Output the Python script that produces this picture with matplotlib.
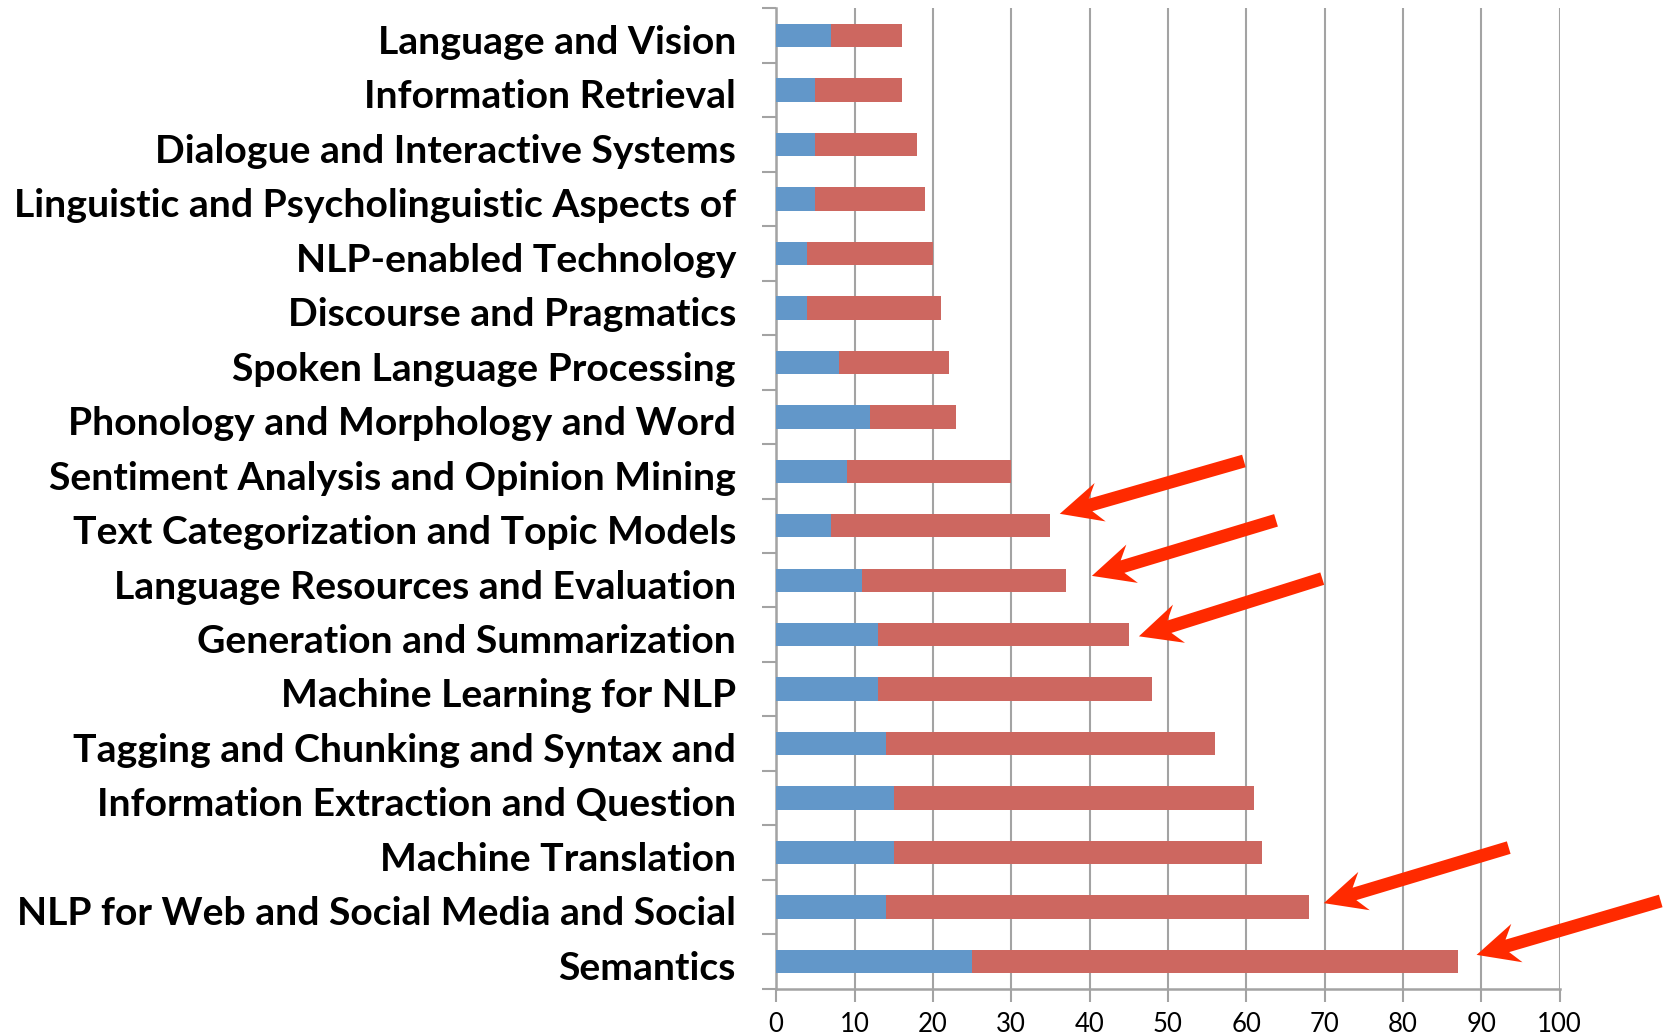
import matplotlib
matplotlib.use("Agg")
import matplotlib.pyplot as plt
import numpy as np
from matplotlib.patches import Polygon

# ---- data (bottom to top) ----
categories = [
    "Semantics",
    "NLP for Web and Social Media and Social",
    "Machine Translation",
    "Information Extraction and Question",
    "Tagging and Chunking and Syntax and",
    "Machine Learning for NLP",
    "Generation and Summarization",
    "Language Resources and Evaluation",
    "Text Categorization and Topic Models",
    "Sentiment Analysis and Opinion Mining",
    "Phonology and Morphology and Word",
    "Spoken Language Processing",
    "Discourse and Pragmatics",
    "NLP-enabled Technology",
    "Linguistic and Psycholinguistic Aspects of",
    "Dialogue and Interactive Systems",
    "Information Retrieval",
    "Language and Vision",
]
blue_values = [25, 14, 15, 15, 14, 13, 13, 11, 7, 9, 12, 8, 4, 4, 5, 5, 5, 7]
red_values = [62, 54, 47, 46, 42, 35, 32, 26, 28, 21, 11, 14, 17, 16, 14, 13, 11, 9]
x_ticks = [0, 10, 20, 30, 40, 50, 60, 70, 80, 90, 100]

# annotation arrows: (tail_x, tail_y, head_x, head_y) in data units
arrows = [
    (59.7, 9.19, 36.2, 8.22),
    (63.8, 8.10, 40.3, 7.08),
    (69.7, 7.03, 46.3, 5.97),
    (93.5, 2.09, 69.9, 1.07),
    (112.9, 1.11, 89.4, 0.12),
]

BLUE = "#6297c9"
RED = "#cd6760"
GRID = "#a3a3a3"
ARROW = "#ff2a00"

plt.rcParams['font.family'] = ['Lato', 'DejaVu Sans']

fig = plt.figure(figsize=(16.67, 10.35), dpi=100)
ax = fig.add_axes([0.4656, 0.0448, 0.47, 0.947])

y = np.arange(len(categories))
ax.barh(y, blue_values, height=0.43, color=BLUE, zorder=3)
ax.barh(y, red_values, left=blue_values, height=0.43, color=RED, zorder=3)

ax.set_xlim(0, 100)
ax.set_ylim(-0.5, len(categories) - 0.5)
ax.set_xticks(x_ticks)
ax.set_xticklabels([str(t) for t in x_ticks], fontsize=18.5)
# label baseline sits slightly below the bar centre in the original
ax.set_yticks(y - 0.07)
ax.set_yticklabels(categories, fontsize=28.2, fontweight='bold')
ax.set_yticks(np.arange(-0.5, len(categories)), minor=True)

ax.tick_params(axis='y', which='major', length=0, pad=29)
ax.tick_params(axis='y', which='minor', length=10, width=1.5, color=GRID, direction='out')
ax.tick_params(axis='x', which='major', length=9, width=1.5, color=GRID, direction='out', pad=8)

ax.grid(axis='x', color=GRID, linewidth=1.5, zorder=0)
ax.set_axisbelow(True)
for s in ['top', 'right']:
    ax.spines[s].set_visible(False)
for s in ['left', 'bottom']:
    ax.spines[s].set_color(GRID)
    ax.spines[s].set_linewidth(1.8)

# draw notched arrows in pixel space
fig.canvas.draw()
shaft_half = 6.5
head_len = 42
head_half = 20
notch = 10
for tx, ty, hx, hy in arrows:
    (px, py) = ax.transData.transform((hx, hy))
    (qx, qy) = ax.transData.transform((tx, ty))
    d = np.array([qx - px, qy - py])
    L = np.hypot(*d)
    u = d / L
    n = np.array([-u[1], u[0]])
    tip = np.array([px, py])
    junction = tip + u * (head_len - notch)
    barb = tip + u * head_len
    tail = tip + u * L
    pts = [
        tip,
        barb + n * head_half,
        junction + n * shaft_half,
        tail + n * shaft_half,
        tail - n * shaft_half,
        junction - n * shaft_half,
        barb - n * head_half,
    ]
    fig.patches.append(Polygon(pts, closed=True, facecolor=ARROW, edgecolor='none',
                               transform=None, figure=fig, zorder=10))

fig.savefig("out.png", dpi=100)
